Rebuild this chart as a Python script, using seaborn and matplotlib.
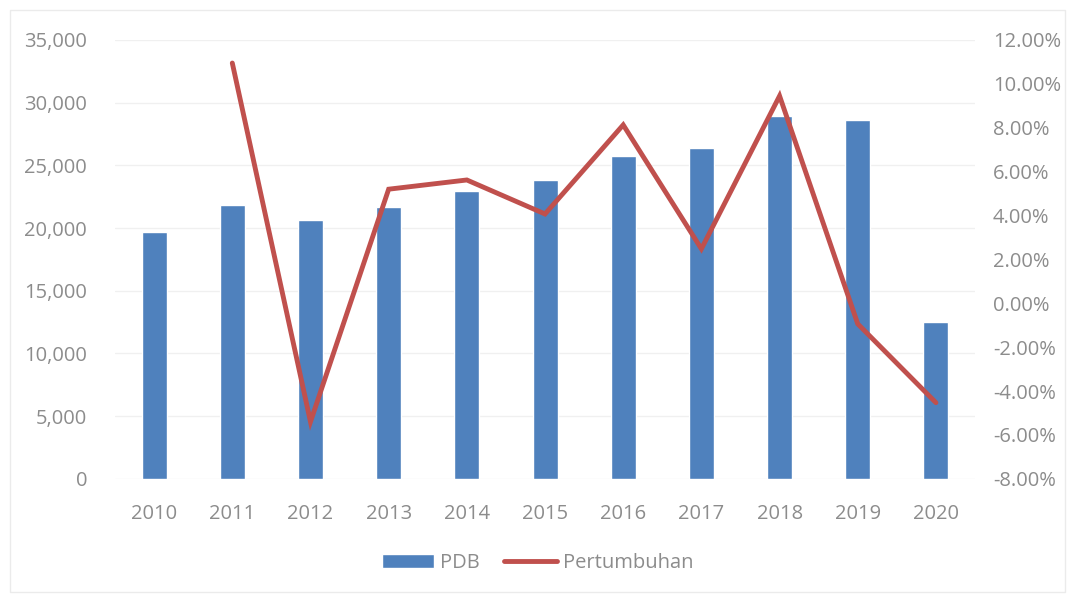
import pandas as pd
import seaborn as sns
import matplotlib.pyplot as plt
from matplotlib.ticker import FuncFormatter, MultipleLocator
from matplotlib.patches import Patch
from matplotlib.lines import Line2D

years = ['2010', '2011', '2012', '2013', '2014', '2015', '2016', '2017', '2018', '2019', '2020']
pdb = [19700, 21850, 20650, 21700, 22970, 23850, 25770, 26400, 28950, 28630, 12520]
growth = [None, 10.95, -5.40, 5.20, 5.62, 4.07, 8.13, 2.48, 9.45, -0.94, -4.53]

BAR = '#4F81BD'
LINE = '#C0504D'
TXT = '#8C8C8C'


def main():
    sns.set_style('white')
    plt.rcParams['font.family'] = ['Open Sans', 'DejaVu Sans']

    df = pd.DataFrame({'year': years, 'pdb': pdb, 'growth': growth})
    df['pos'] = range(len(years))

    fig = plt.figure(figsize=(10.75, 5.97), dpi=100)
    fig.patches.append(plt.Rectangle((0.009, 0.008), 0.982, 0.975, transform=fig.transFigure,
                                     fill=False, edgecolor='#EBEBEB', lw=1))
    ax = fig.add_axes([0.107, 0.198, 0.8, 0.735])

    sns.barplot(data=df, x='year', y='pdb', color=BAR, width=0.32, saturation=1, ax=ax, zorder=2)
    ax.set_ylim(0, 35000)
    ax.yaxis.set_major_locator(MultipleLocator(5000))
    ax.yaxis.set_major_formatter(FuncFormatter(lambda v, p: f'{v:,.0f}'))
    ax.grid(axis='y', color='#F0F0F0', lw=1, zorder=0)
    ax.set_axisbelow(True)
    ax.set_xlabel('')
    ax.set_ylabel('')
    ax.set_xlim(-0.5, len(years) - 0.5)

    ax2 = ax.twinx()
    sns.lineplot(data=df.dropna(), x='pos', y='growth', color=LINE, lw=3.5, ax=ax2,
                 solid_capstyle='round', solid_joinstyle='miter')
    ax2.set_ylim(-8, 12)
    ax2.yaxis.set_major_locator(MultipleLocator(2))
    ax2.yaxis.set_major_formatter(FuncFormatter(lambda v, p: f'{v:.2f}%'))
    ax2.set_ylabel('')
    ax2.set_xlim(-0.5, len(years) - 0.5)

    for a in (ax, ax2):
        for s in a.spines.values():
            s.set_visible(False)
        a.tick_params(length=0, labelsize=14.5, labelcolor=TXT)
    ax.tick_params(axis='y', pad=20)
    ax.tick_params(axis='x', pad=18)
    ax2.tick_params(axis='y', pad=13)

    handles = [Patch(facecolor=BAR, label='PDB'),
               Line2D([0], [0], color=LINE, lw=3.5, solid_capstyle='round', label='Pertumbuhan')]
    fig.legend(handles=handles, loc='center', bbox_to_anchor=(0.5, 0.057), ncol=2, frameon=False,
               fontsize=14.5, labelcolor=TXT, handlelength=2.6, handletextpad=0.3, columnspacing=1.2)

    fig.savefig('out.png', dpi=100)
    plt.close(fig)


if __name__ == '__main__':
    main()
